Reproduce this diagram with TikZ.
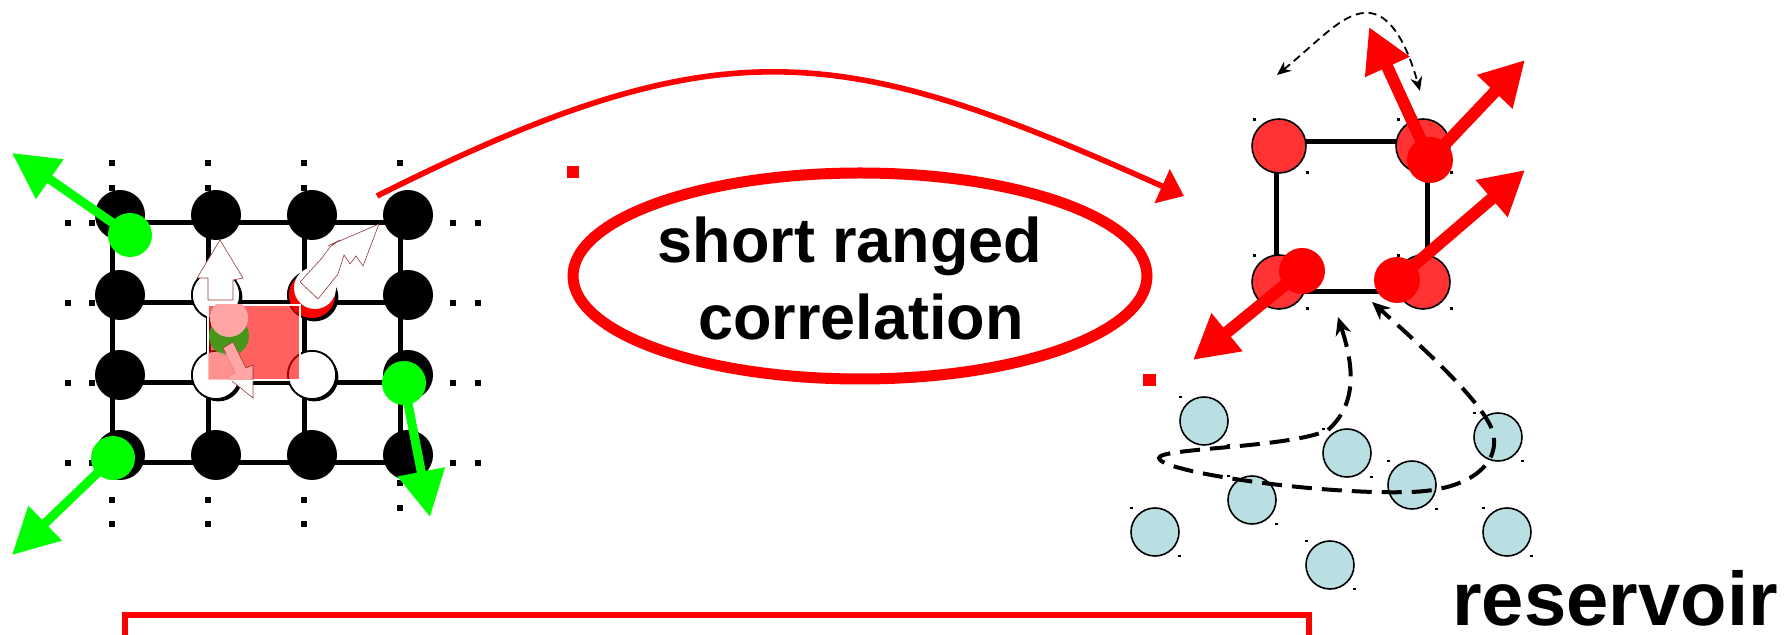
\documentclass[tikz,border=0pt]{standalone}
\usepackage{fontspec}
\setmainfont{Liberation Sans}
\usepackage{xcolor}
\usepackage{tikz}
\usetikzlibrary{shapes,arrows.meta,positioning,calc,shadows}

\definecolor{spinred}{RGB}{255,0,0}
\definecolor{sitered}{RGB}{255,51,51}
\definecolor{spingreen}{RGB}{0,255,0}
\definecolor{bathblue}{RGB}{185,223,227}
\definecolor{ghostline}{RGB}{150,60,60}
\definecolor{ghostpink}{RGB}{255,165,165}
\definecolor{ghostgreen}{RGB}{70,150,25}

\begin{document}
\begin{tikzpicture}[x=0.5pt,y=-0.5pt,
  bond/.style={line width=2.5pt},
  site/.style={circle,fill=black,inner sep=0pt,minimum size=25pt},
  hole/.style={circle,fill=white,draw=black,line width=0.8pt,inner sep=0pt,minimum size=24pt,
    drop shadow={shadow xshift=1.2pt,shadow yshift=-1.2pt,fill=black,opacity=1}},
  gspin/.style={circle,fill=spingreen,inner sep=0pt,minimum size=22pt},
  garrow/.style={spingreen,line width=4.5pt,-{Triangle[length=23pt,width=23pt]}},
  rsite/.style={circle,fill=sitered,draw=black,line width=0.8pt,inner sep=0pt,minimum size=27pt},
  rspin/.style={circle,fill=spinred,inner sep=0pt,minimum size=23pt},
  rarrow/.style={spinred,line width=6pt,-{Triangle[length=22pt,width=23pt]}},
  atom/.style={circle,fill=bathblue,draw=black,line width=0.8pt,inner sep=0pt,minimum size=24pt},
  ghost/.style={fill=white,draw=ghostline,line width=0.3pt},
  hop/.style={line width=2pt,dash pattern=on 10pt off 5pt,{Stealth[length=9pt,width=8pt]}-{Stealth[length=9pt,width=8pt]}},
  swapline/.style={line width=0.9pt,dash pattern=on 4pt off 2.5pt,{Stealth[length=7pt,width=6pt]}-{Stealth[length=7pt,width=6pt]}},
  bigtext/.style={font=\bfseries\fontsize{31.5pt}{38pt}\selectfont,inner sep=0pt}]
\useasboundingbox (0,0) rectangle (1789,635);

% Lattice bonds
\foreach \k in {0,...,3} {
  \draw[bond] ({112+96*\k},223) -- ({112+96*\k},463);
  \draw[bond] (112,{223+80*\k}) -- (400,{223+80*\k});
}
% Dots continuing the lattice
\foreach \y in {223,303,383,463}
  \foreach \x in {68,92,453,478}
    \fill (\x-3,\y-3) rectangle ++(6,6);
\foreach \x in {112,208,304} {
  \fill (\x-3,160) rectangle ++(6,6);
  \fill (\x-3,185) rectangle ++(6,6);
  \fill (\x-3,497) rectangle ++(6,6);
  \fill (\x-3,521) rectangle ++(6,6);
}
\fill (397,160) rectangle ++(6,6);
\fill (397,480) rectangle ++(6,6);
\fill (397,505) rectangle ++(6,6);
% Lattice sites
\foreach \i in {0,...,3}
  \foreach \j in {0,...,3}
    \node[site] (s\i\j) at ({120+96*\i},{215+80*\j}) {};

% Emptied plaquette
\node[hole] (h11) at (216,295) {};
\node[hole] (h12) at (216,375) {};
\node[hole] (h22) at (312,375) {};
\node[circle,fill=spinred,draw=black,line width=0.8pt,inner sep=0pt,minimum size=24pt,
  drop shadow={shadow xshift=1.2pt,shadow yshift=-1.2pt,fill=black,opacity=1}] (h21) at (312,295) {};
\node[circle,fill=white,inner sep=0pt,minimum size=21pt] (h21w) at (315,288) {};
\filldraw[ghost] (220,240) -- (243,278) -- (233,280) -- (233,300) -- (208,300) -- (208,278) -- (197,278) -- cycle;
\filldraw[ghost] (379,224) -- (363,266) -- (356,256) -- (350,264) -- (344,255) -- (338,274) -- (318,299)
  -- (300,282) -- (322,258) -- (330,247) -- (340,240) -- (328,246) -- cycle;
\filldraw[ghost] (253,398) -- (227,377) -- (235,373) -- (223,348) -- (233,342) -- (246,368) -- (253,365) -- cycle;
\fill[spinred,opacity=0.62] (208,305) rectangle (300,380);
\draw[white,line width=0.8pt] (208,305) rectangle (300,380);
\begin{scope}
  \clip (208,305) rectangle (300,380);
  \fill[ghostgreen] (229,336) circle (20);
  \fill[ghostpink] (229,318) circle (19);
  \filldraw[fill=ghostpink,draw=ghostline,line width=0.3pt] (253,398) -- (227,377) -- (235,373) -- (223,348)
    -- (233,342) -- (246,368) -- (253,365) -- cycle;
  \fill[ghostpink,opacity=0.7] (216,375) circle (23);
\end{scope}

% Green spins
\node[gspin] (g1) at (130,235) {};
\node[gspin] (g2) at (113,458) {};
\node[gspin] (g3) at (404,383) {};
\coordinate (g1tip) at (12,153);
\coordinate (g2tip) at (12,555);
\coordinate (g3tip) at (430,517);
\draw[garrow] (g1.center) -- (g1tip);
\draw[garrow] (g2.center) -- (g2tip);
\draw[garrow] (g3.center) -- (g3tip);

% Mapping arrow
\coordinate (xfer0) at (377,196);
\coordinate (xfer1) at (1184,196);
\draw[spinred,line width=2.8pt,-{Triangle[length=12pt,width=18pt]}] (xfer0) .. controls (722,23) and (839,41) .. (xfer1);

% Correlation label
\node[ellipse,draw=spinred,line width=5.5pt,minimum width=287pt,minimum height=103pt,inner sep=0pt] (corr) at (860,276) {};
\node[bigtext,anchor=base] (corrtop) at (850,263) {short ranged};
\node[bigtext,anchor=base] (corrbot) at (861,340) {correlation};

\fill[spinred] (567,166) rectangle ++(12,12);
\fill[spinred] (1143,374) rectangle ++(13,12);

% Plaquette
\draw[bond] (1276,142) rectangle (1427,292);
\foreach \n/\x/\y in {a/1279/146,b/1423/146,c/1279/282,d/1423/282} {
  \node[rsite] (p\n) at (\x,\y) {};
  \fill (\x-26,\y-28) rectangle ++(3,3);
  \fill (\x+27,\y+25) rectangle ++(3,3);
}
\coordinate (r1a) at (1369,27);
\coordinate (r1b) at (1525,60);
\coordinate (r2a) at (1525,170);
\coordinate (r3a) at (1193,360);
\node[rspin] (r1) at (1430,160) {};
\node[rspin] (r2) at (1397,280) {};
\node[rspin] (r3) at (1302,271) {};
\draw[rarrow] (r1.center) -- (r1a);
\draw[rarrow] (r1.center) -- (r1b);
\draw[rarrow] (r2.center) -- (r2a);
\draw[rarrow] (r3.center) -- (r3a);

% Exchange between sites
\coordinate (swapA) at (1277,75);
\coordinate (swapB) at (1420,91);
\draw[swapline] (swapA) .. controls (1320,40) and (1345,10) .. (1370,13)
  .. controls (1395,16) and (1410,55) .. (swapB);

% Bath
\foreach \x/\y [count=\n] in {1204/421,1347/453,1498/437,1412/485,1252/500,1155/532,1330/565,1507/532} {
  \node[atom] (b\n) at (\x,\y) {};
  \fill (\x-25,\y-25) rectangle ++(2.5,2.5);
  \fill (\x+23,\y+23) rectangle ++(2.5,2.5);
}
\coordinate (hopA) at (1338,317);
\coordinate (hopB) at (1372,302);
\draw[hop] (hopA) .. controls (1350,355) and (1362,400) .. (1328,430)
  .. controls (1290,448) and (1158,448) .. (1159,458)
  .. controls (1160,472) and (1320,495) .. (1410,492)
  .. controls (1480,490) and (1505,455) .. (1490,425)
  .. controls (1475,395) and (1420,345) .. (hopB);
\node[anchor=base west,inner sep=0pt,font=\bfseries\fontsize{38pt}{40pt}\selectfont] (res) at (1452,626) {reservoir};

% Bracket
\draw[spinred,line width=3pt] (125,645) -- (125,615) -- (1309,615) -- (1309,645);

\end{tikzpicture}
\end{document}
